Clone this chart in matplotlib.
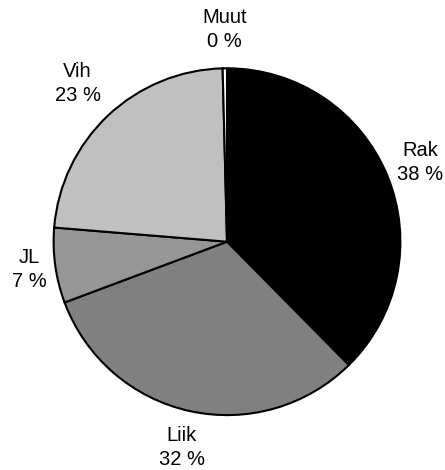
import numpy as np
import matplotlib
matplotlib.use("Agg")
import matplotlib.pyplot as plt

plt.rcParams['font.family'] = ['Liberation Sans', 'DejaVu Sans']

# Share of each category (percent)
categories = ["Rak", "Liik", "JL", "Vih", "Muut"]
shares = [37.6, 31.7, 7.0, 23.3, 0.4]
colors = ["#000000", "#808080", "#969696", "#c0c0c0", "#ffffff"]
label_dist = [1.205, 1.215, 1.15, 1.255, 1.225]

W, H = 445, 470
fig = plt.figure(figsize=(W / 100, H / 100), dpi=100)
cx, cy, r = 227.0, 241.7, 173.4
ax = fig.add_axes([(cx - r) / W, (H - cy - r) / H, 2 * r / W, 2 * r / H])
ax.axis("off")

wedges, _ = ax.pie(shares, colors=colors, startangle=90, counterclock=False,
                   radius=1, center=(0, 0), frame=False,
                   wedgeprops=dict(edgecolor="black", linewidth=1.5))
ax.set_xlim(-1, 1)
ax.set_ylim(-1, 1)
ax.set_aspect("auto")

for w, name, val, d in zip(wedges, categories, shares, label_dist):
    mid = np.deg2rad((w.theta1 + w.theta2) / 2)
    x, y = d * np.cos(mid), d * np.sin(mid)
    ax.text(x, y, f"{name}\n{round(val)} %", ha="center", va="center",
            fontsize=14.5, linespacing=1.35, color="black", clip_on=False)

fig.savefig("out.png", dpi=100)
